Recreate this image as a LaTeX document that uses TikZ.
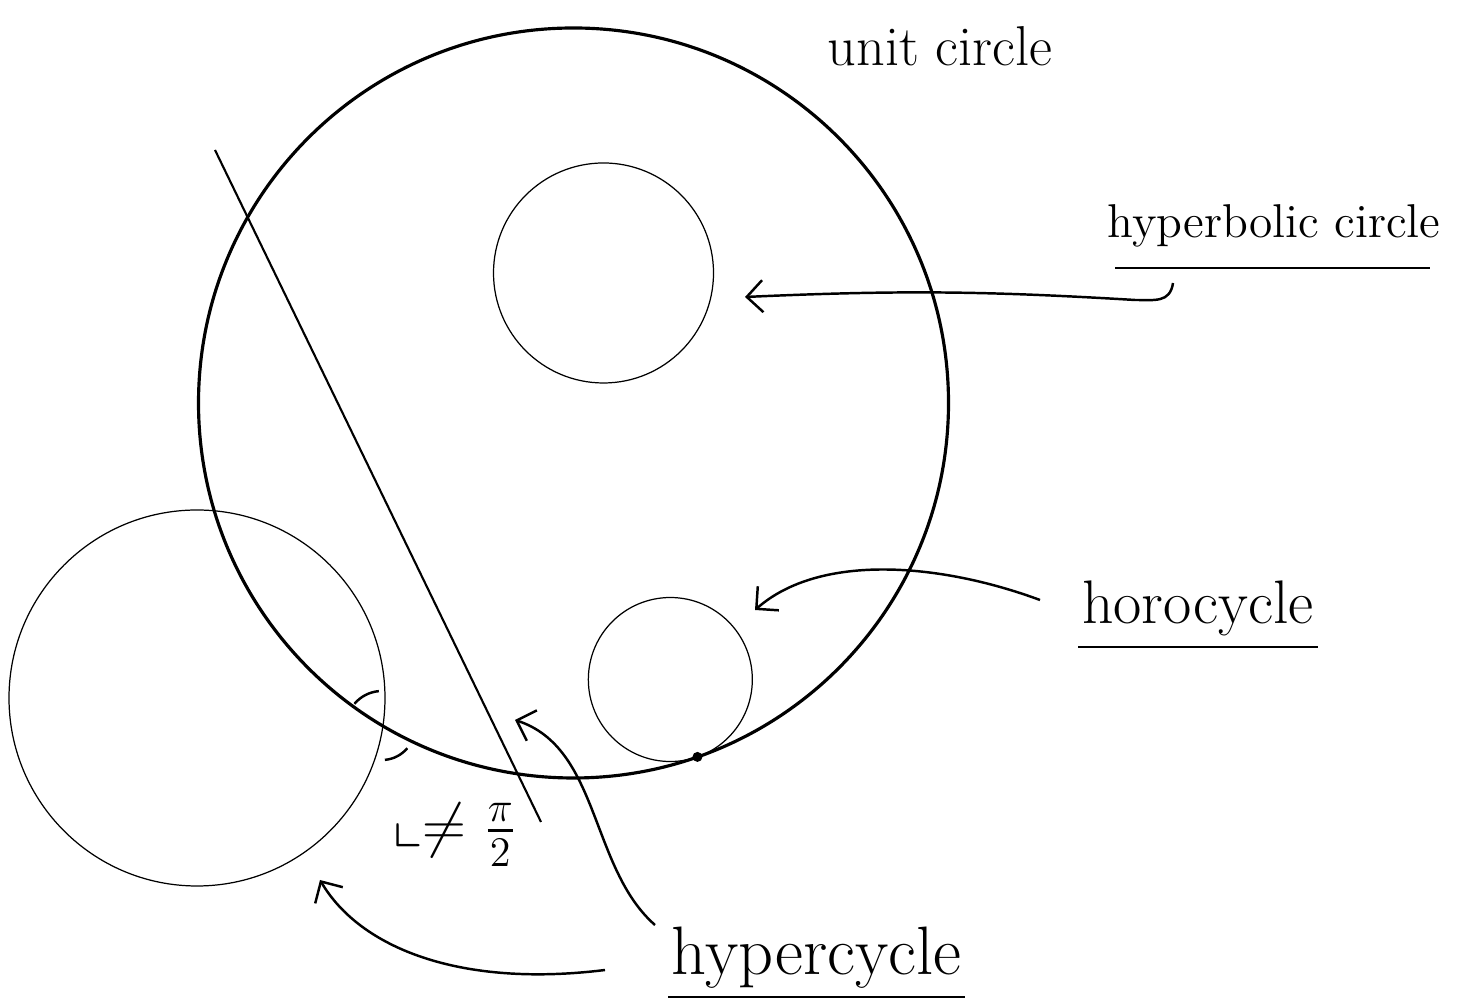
\documentclass[tikz,border=0pt]{standalone}
\usepackage{amsmath,amssymb}
\usepackage{tikz}
\usetikzlibrary{arrows.meta,calc}

\begin{document}
\begin{tikzpicture}[
  % Styles
  boundary/.style={line width=0.9pt},
  thincirc/.style={line width=0.35pt},
  geodesic/.style={line width=0.6pt},
  marklbl/.style={inner sep=1pt, align=center},
  pointer/.style={line width=0.7pt, -{Straight Barb[length=1.6mm, width=3.2mm]}},
  uline/.style={line width=0.7pt}
]
  \useasboundingbox (0,0) rectangle (14.61,10.08);

  % ============================================
  % Disc and the curves inside it
  % ============================================
  \coordinate (o) at (5.735,6.05);
  \draw[boundary] (o) circle[radius=3.75];
  \node[marklbl, font=\fontsize{16}{19}\selectfont] (unitlbl) at (9.40,9.62) {unit circle};

  % hyperbolic circle
  \coordinate (hc) at (6.035,7.35);
  \draw[thincirc] (hc) circle[radius=1.10];

  % horocycle, tangent to the boundary
  \coordinate (horo) at ($(o)+(-70.7:2.93)$);
  \coordinate (ideal) at ($(o)+(-70.7:3.75)$);
  \draw[thincirc] (horo) circle[radius=0.82];
  \fill (ideal) circle[radius=0.05];

  % hypercycle
  \coordinate (hyp) at (1.97,3.10);
  \draw[thincirc] (hyp) circle[radius=1.88];

  % geodesic line
  \coordinate (gtop) at (2.15,8.58);
  \coordinate (gbot) at (5.41,1.86);
  \draw[geodesic] (gtop) -- (gbot);

  % angle marks where the hypercycle meets the boundary
  \coordinate (meet) at (3.82,2.81);
  \draw[line width=0.7pt] ([shift={(95:0.36)}]meet) arc[start angle=95, end angle=140, radius=0.36];
  \draw[line width=0.7pt] ([shift={(-40:0.33)}]meet) arc[start angle=-40, end angle=-85, radius=0.33];
  \node[marklbl, font=\fontsize{17}{20}\selectfont] (anglelbl) at (4.55,1.73) {$\llcorner\neq\frac{\pi}{2}$};

  % ============================================
  % Labels
  % ============================================
  \node[marklbl, font=\fontsize{13.5}{16}\selectfont] (hclbl) at (12.74,7.82) {hyperbolic circle};
  \node[marklbl, font=\fontsize{17.5}{21}\selectfont] (horolbl) at (11.98,4.00) {horocycle};
  \node[marklbl, font=\fontsize{19.5}{23}\selectfont] (hyplbl) at (8.165,0.50) {hypercycle};

  \draw[uline] ($(hclbl.center)+(-1.59,-0.42)$) -- ($(hclbl.center)+(1.56,-0.42)$);
  \draw[uline] ($(horolbl.center)+(-1.20,-0.39)$) -- ($(horolbl.center)+(1.20,-0.39)$);
  \draw[uline] ($(hyplbl.center)+(-1.485,-0.39)$) -- ($(hyplbl.center)+(1.485,-0.39)$);

  % ============================================
  % Pointers
  % ============================================
  \coordinate (hcfrom) at (11.73,7.25);
  \coordinate (hcto) at (7.45,7.11);
  \coordinate (horofrom) at (10.40,4.08);
  \coordinate (horoto) at (7.55,3.98);
  \coordinate (hypfromA) at (6.55,0.83);
  \coordinate (hyptoA) at (5.15,2.88);
  \coordinate (hypfromB) at (6.05,0.38);
  \coordinate (hyptoB) at (3.20,1.28);

  \draw[pointer] (hcfrom) .. controls (11.70,7.05) and (11.55,7.08) .. (11.35,7.08) to[bend right=3] (hcto);
  \draw[pointer] (horofrom) .. controls (9.40,4.45) and (8.20,4.55) .. (horoto);
  \draw[pointer] (hypfromA) .. controls (5.90,1.40) and (6.00,2.60) .. (hyptoA);
  \draw[pointer] (hypfromB) .. controls (4.60,0.20) and (3.60,0.60) .. (hyptoB);

\end{tikzpicture}
\end{document}
